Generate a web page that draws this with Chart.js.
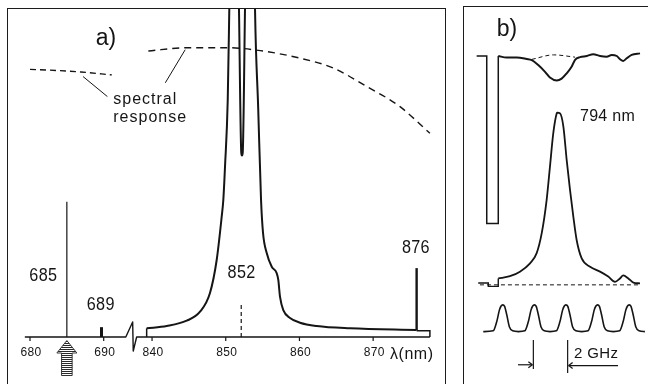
<!DOCTYPE html>
<html>
<head>
<meta charset="utf-8">
<script src="https://cdn.jsdelivr.net/npm/chart.js@4/dist/chart.umd.min.js"></script>
<style>
  body { margin: 0; background: #fff; width: 648px; height: 384px; overflow: hidden; position: relative; }
  .frame { position: absolute; border: 1.6px solid #1c1c1c; border-bottom: none; }
  #frameA { left: 7px; top: 8px; width: 437px; height: 400px; }
  #frameB { left: 463px; top: 6px; width: 200px; height: 400px; border-right: none; }
  canvas { position: absolute; top: 0; }
  #chartA { left: 0; }
  #chartB { left: 460px; }
</style>
</head>
<body>
<div class="frame" id="frameA"></div>
<div class="frame" id="frameB"></div>
<canvas id="chartA" width="460" height="384"></canvas>
<canvas id="chartB" width="188" height="384"></canvas>
<script>
//----------------------
// Data, panel a) : wavelength (nm) and intensity (arb. units)
//----------------------

const xTicksA = [680, 690, 840, 850, 860, 870];

// fluorescence around the 852 nm line (goes off scale between the lines)
const mainLam = [839.27, 841.99, 844.70, 846.51, 847.86, 848.77, 849.45, 849.67, 849.90, 850.27, 850.48, 850.75,
                 851.55, 851.80, 852.11, 852.20, 852.30, 852.61, 852.85, 853.75, 853.98, 854.40, 854.79, 855.06,
                 855.56, 856.24, 856.91, 857.13, 857.36, 857.81, 858.72, 860.07, 862.34, 866.87, 875.90];
const mainInt = [2.65, 3.35, 4.97, 7.71, 13.41, 23.48, 36.68, 41.77, 51.92, 72.26, 99.7, 140,
                 140, 99.7, 56.1, 55.3, 56.1, 99.7, 140, 140, 99.1, 70.0, 41.77, 31.7,
                 25.6, 21.4, 19.5, 17.4, 12.3, 8.2, 5.8, 4.36, 3.35, 2.65, 2.13];

// narrow lines
const lineLam = [685, 689.7, 875.9];
const lineTop = [41.2, 3.0, 21.0];
const lineBase = [0, 0, 2.1];

const markLam = 852.1;   // dashed marker under 852
const markTop = 10.4;

// spectral response of the detector (dashed)
const respLeftLam = [680, 684.1, 686.9, 691.1];
const respLeftInt = [81.6, 81.2, 80.8, 79.9];
const respRightLam = [839.5, 844.7, 850.1, 854.7, 860.1, 864.6, 869.1, 873.6, 877.7];
const respRightInt = [87.2, 88.2, 88.2, 87.3, 85.0, 82.0, 76.4, 70.3, 62.1];

//----------------------
// Data, panel b) : frequency (GHz) and signal (arb. units)
//----------------------

const dipRectG = [-1.65, -1.01, -1.01, -0.28, -0.28];
const dipRectU = [87.0, 87.0, 42.6, 42.6, 87.0];
const absG = [-0.28, 0.25, 0.89, 1.52, 1.84, 2.25, 2.68, 2.99, 3.42, 3.73, 4.05, 4.37, 4.58, 4.89, 5.32,
              5.73, 6.16, 6.58, 6.90, 7.22, 7.44, 7.63, 7.85, 8.16, 8.69];
const absU = [87.0, 86.6, 86.6, 86.2, 85.9, 84.6, 82.8, 81.3, 80.5, 81.0, 82.4, 84.2, 86.0, 86.7, 87.0,
              87.5, 87.0, 86.8, 87.3, 87.0, 86.1, 85.7, 86.4, 87.3, 87.7];
const absRefG = [1.84, 3.22, 4.58];
const absRefU = [86.1, 87.3, 86.7];

const emMarkG = [-1.55, -0.91, -0.91, -0.28, -0.28];
const emMarkU = [26.8, 26.8, 25.9, 25.9, 28.0];
const emG = [-0.28, 0.46, 1.09, 1.73, 2.15, 2.47, 2.78, 2.99, 3.20, 3.42, 3.46, 3.63, 3.84, 4.05, 4.26,
             4.47, 4.68, 5.00, 5.53, 6.16, 6.68, 7.11, 7.42, 7.63, 7.95, 8.27, 8.69];
const emU = [28.0, 28.6, 29.8, 32.0, 34.7, 40.0, 48.8, 57.6, 66.5, 71.8, 72.0, 71.8, 68.3, 59.4, 51.5,
             44.4, 38.2, 33.3, 31.1, 29.8, 28.5, 27.1, 28.0, 28.8, 28.0, 26.9, 26.7];
const emBaseG = [-1.44, 8.75];
const emBaseU = [26.3, 26.3];

// Fabry-Perot fringes, 2 GHz apart
const fpG = [-1.23, -0.60, -0.38, -0.21, -0.10, 0.00, 0.12, 0.25, 0.42, 0.63, 1.00,
             1.40, 1.62, 1.79, 1.90, 2.00, 2.12, 2.25, 2.42, 2.63, 3.00,
             3.40, 3.62, 3.79, 3.90, 4.00, 4.12, 4.25, 4.42, 4.63, 5.00,
             5.40, 5.62, 5.79, 5.90, 6.00, 6.12, 6.25, 6.42, 6.63, 7.00,
             7.40, 7.62, 7.79, 7.90, 8.00, 8.12, 8.25, 8.42, 8.63, 9.00];
const fpU = [13.9, 14.1, 16.5, 19.6, 20.7, 21.0, 20.6, 18.5, 15.2, 14.1, 13.9,
             14.1, 16.5, 19.6, 20.7, 21.0, 20.6, 18.5, 15.2, 14.1, 13.9,
             14.1, 16.5, 19.6, 20.7, 21.0, 20.6, 18.5, 15.2, 14.1, 13.9,
             14.1, 16.5, 19.6, 20.7, 21.0, 20.6, 18.5, 15.2, 14.1, 13.9,
             14.1, 16.5, 19.6, 20.7, 21.0, 20.6, 18.5, 15.2, 14.1, 13.9];
const scaleTicksG = [1.94, 4.11];   // the "2 GHz" marker

//----------------------
// helpers
//----------------------

const ink = '#151515';

// the wavelength axis is broken between 694 and 838 nm
function toU(lam) {
    return lam < 760 ? lam - 680 : lam - 840 + 16.56;
}

function pts(xs, ys, fx) {
    return xs.map((x, i) => ({ x: fx ? fx(x) : x, y: ys[i] }));
}

function line(data, width, extra) {
    return Object.assign({
        data: data, borderColor: ink, borderWidth: width, pointRadius: 0, fill: false, tension: 0
    }, extra || {});
}

function txt(ctx, s, x, y, size, align, sx, spacing) {
    ctx.save();
    ctx.translate(x, y);
    ctx.scale(sx || 1, 1);
    ctx.font = size + 'px "Liberation Sans", Arial, sans-serif';
    ctx.letterSpacing = (spacing || 0) + 'px';
    ctx.fillStyle = ink;
    ctx.textAlign = align || 'center';
    ctx.textBaseline = 'middle';
    ctx.fillText(s, 0, 0);
    ctx.restore();
}

function seg(ctx, x1, y1, x2, y2, w) {
    ctx.beginPath();
    ctx.lineWidth = w || 1;
    ctx.moveTo(x1, y1);
    ctx.lineTo(x2, y2);
    ctx.stroke();
}

const baseOptions = (xmin, xmax, pad) => ({
    responsive: false,
    animation: false,
    devicePixelRatio: 1,
    events: [],
    layout: { padding: pad },
    plugins: { legend: { display: false }, tooltip: { enabled: false } },
    scales: {
        x: { type: 'linear', display: false, min: xmin, max: xmax },
        y: { type: 'linear', display: false, min: 0, max: 100 }
    }
});

//----------------------
// Panel a)
//----------------------

const datasetsA = [
    line(pts(mainLam, mainInt, toU), 2, { cubicInterpolationMode: 'monotone' }),
    line(pts(respLeftLam, respLeftInt, toU), 1.4, { borderDash: [6, 4], cubicInterpolationMode: 'monotone' }),
    line(pts(respRightLam, respRightInt, toU), 1.4, { borderDash: [7, 5], cubicInterpolationMode: 'monotone' }),
    line(pts([markLam, markLam], [0, markTop], toU), 1.2, { borderDash: [4, 3] }),
    line(pts([839.27, 839.27], [0, mainInt[0]], toU), 1.5),
    line(pts([875.9, 877.7, 877.7], [1.9, 1.9, 0], toU), 1.5)
];
const lineWidths = [1.2, 3, 2.4];
lineLam.forEach((l, i) => {
    datasetsA.push(line(pts([l, l], [lineBase[i], lineTop[i]], toU), lineWidths[i]));
});

const extrasA = {
    id: 'extrasA',
    afterDraw(chart) {
        const ctx = chart.ctx;
        const xs = chart.scales.x, ys = chart.scales.y;
        const px = lam => xs.getPixelForValue(toU(lam));
        const py = v => ys.getPixelForValue(v);
        const y0 = py(0);
        ctx.save();
        ctx.strokeStyle = ink;
        ctx.lineJoin = 'round';

        // broken axis
        ctx.beginPath();
        ctx.lineWidth = 1.4;
        ctx.moveTo(px(679.3), y0);
        ctx.lineTo(xs.getPixelForValue(13.0), y0);
        ctx.lineTo(xs.getPixelForValue(13.93), y0 - 15);
        ctx.lineTo(xs.getPixelForValue(14.01), y0 + 14);
        ctx.lineTo(xs.getPixelForValue(14.47), y0);
        ctx.lineTo(px(877.7), y0);
        ctx.stroke();

        xTicksA.forEach(t => {
            seg(ctx, px(t), y0, px(t), y0 + 4, 1.2);
            txt(ctx, String(t), px(t) + 1, y0 + 16, 12, 'center', 1, 0.3);
        });
        txt(ctx, 'λ(nm)', px(872.3), y0 + 18, 16, 'left', 1, 0.5);

        // excitation arrow at 685 nm
        const ax = px(685), top = y0 + 3.5;
        ctx.save();
        ctx.beginPath();
        ctx.moveTo(ax, top);
        ctx.lineTo(ax + 10, top + 12.5);
        ctx.lineTo(ax + 5.3, top + 12.5);
        ctx.lineTo(ax + 5.3, top + 35);
        ctx.lineTo(ax - 5.3, top + 35);
        ctx.lineTo(ax - 5.3, top + 12.5);
        ctx.lineTo(ax - 10, top + 12.5);
        ctx.closePath();
        ctx.lineWidth = 1;
        ctx.strokeStyle = '#3a3a3a';
        ctx.stroke();
        ctx.clip();
        ctx.strokeStyle = '#2a2a2a';
        for (let y = top + 1; y < top + 36; y += 2) seg(ctx, ax - 11, y, ax + 11, y, 1);
        ctx.restore();

        // labels
        txt(ctx, 'a)', px(690.3), py(90.9), 23, 'center', 1, 0);
        txt(ctx, '685', px(681.8), py(18.6), 18, 'center', 0.9, 0.3);
        txt(ctx, '689', px(689.6), py(9.8), 18, 'center', 0.9, 0.3);
        txt(ctx, '852', px(852.14), py(19.5), 18, 'center', 0.9, 0.3);
        txt(ctx, '876', px(875.8), py(27.1), 18, 'center', 0.9, 0.3);
        txt(ctx, 'spectral', px(691.3), py(72.3), 16, 'left', 1, 1);
        txt(ctx, 'response', px(691.3), py(66.8), 16, 'left', 1, 1);

        // leader lines to the dashed curves
        seg(ctx, px(687.2), py(79.4), px(690.5), py(73.3), 1);
        seg(ctx, px(844.5), py(87.6), px(841.8), py(77.5), 1);
        ctx.restore();
    }
};

new Chart(document.getElementById('chartA'), {
    type: 'line',
    data: { datasets: datasetsA },
    options: baseOptions(-2.985, 56.31, { left: 8, right: 15, top: 9, bottom: 47 }),
    plugins: [extrasA]
});

//----------------------
// Panel b)
//----------------------

const datasetsB = [
    line(pts(dipRectG, dipRectU), 1.5),
    line(pts(absG, absU), 2, { cubicInterpolationMode: 'monotone' }),
    line(pts(absRefG, absRefU), 1, { borderDash: [4, 3], cubicInterpolationMode: 'monotone' }),
    line(pts(emMarkG, emMarkU), 1.4),
    line(pts(emG, emU), 1.8, { cubicInterpolationMode: 'monotone' }),
    line(pts(emBaseG, emBaseU), 1, { borderDash: [4, 3] }),
    line(pts(fpG, fpU), 1.6, { cubicInterpolationMode: 'monotone' })
];

const extrasB = {
    id: 'extrasB',
    afterDraw(chart) {
        const ctx = chart.ctx;
        const px = g => chart.scales.x.getPixelForValue(g);
        const py = v => chart.scales.y.getPixelForValue(v);
        ctx.save();
        ctx.strokeStyle = ink;

        txt(ctx, 'b)', px(0.27), py(93.9), 23, 'center', 1, 0);
        txt(ctx, '794 nm', px(4.89), py(70.8), 16, 'left', 1, 0.3);

        // 2 GHz scale marker
        const [g1, g2] = scaleTicksG;
        seg(ctx, px(g1), py(11.7), px(g1), py(4.0), 1.2);
        seg(ctx, px(g2), py(11.7), px(g2), py(2.9), 1.2);
        const ya = py(5.1), yb = py(4.9);
        seg(ctx, px(0.97), ya, px(g1) - 1, ya, 1.2);
        seg(ctx, px(g1) - 1, ya, px(g1) - 5, ya - 3, 1.2);
        seg(ctx, px(g1) - 1, ya, px(g1) - 5, ya + 3, 1.2);
        seg(ctx, px(7.3), yb, px(g2) + 1, yb, 1.2);
        seg(ctx, px(g2) + 1, yb, px(g2) + 5, yb - 3, 1.2);
        seg(ctx, px(g2) + 1, yb, px(g2) + 5, yb + 3, 1.2);
        txt(ctx, '2 GHz', px(4.51), py(7.9), 15, 'left', 1, 0.4);
        ctx.restore();
    }
};

new Chart(document.getElementById('chartB'), {
    type: 'line',
    data: { datasets: datasetsB },
    options: baseOptions(-2.386, 9.196, { left: 5, right: 0, top: 7, bottom: 0 }),
    plugins: [extrasB]
});
</script>
</body>
</html>
